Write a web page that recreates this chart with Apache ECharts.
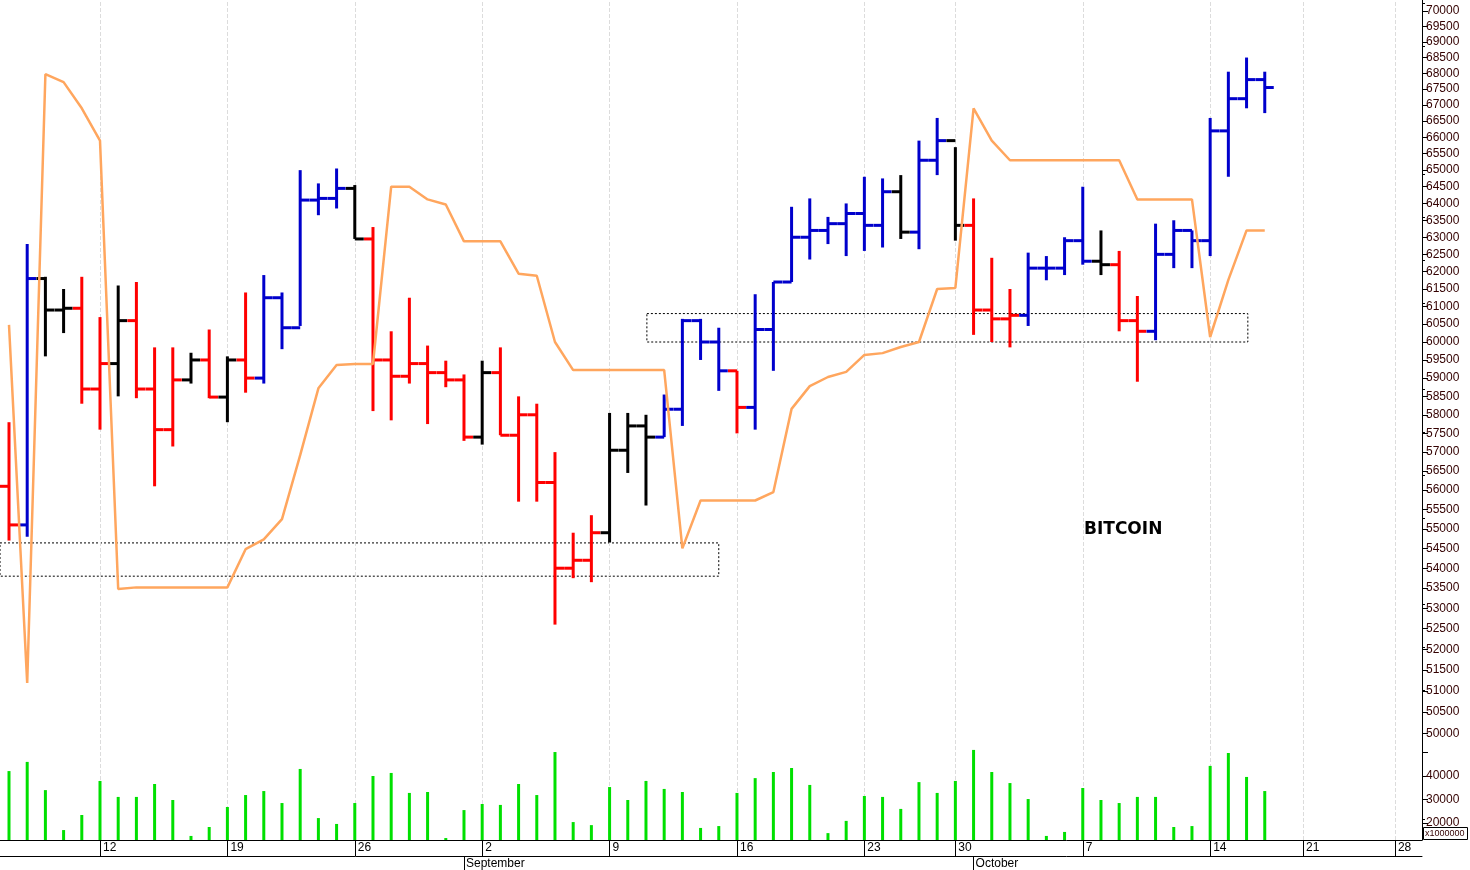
<!DOCTYPE html>
<html>
<head>
<meta charset="utf-8">
<script src="https://cdn.jsdelivr.net/npm/echarts@6/dist/echarts.min.js"></script>
<style>
  html, body { margin: 0; padding: 0; background: #fff; }
  #vis { width: 1470px; height: 870px; }
</style>
</head>
<body>
<div id="vis"></div>
<script>
// daily bars, Aug 7 .. Oct 17 (slot index = bar number)
const highs = [57800, 62800, 61850, 61500, 61850, 60700, 61600, 61700, 59850, 59850,
  59700, 60350, 59600, 61400, 61900, 61400, 65000, 64600, 65050, 64550,
  63300, 60300, 61250, 59900, 59480, 59100, 59480, 59850, 58500, 58300,
  57000, 54900, 55350, 58050, 58050, 58000, 58550, 60650, 60650, 60400,
  59200, 61350, 61700, 63900, 64150, 63600, 64000, 64800, 64750, 64850,
  65900, 66600, 65700, 64150, 62400, 61500, 62550, 62450, 63000, 64500,
  63200, 62600, 61300, 63400, 63500, 63200, 66600, 68050, 68500, 68050];
const lows = [54700, 54800, 59600, 60250, 58300, 57600, 58500, 58450, 56100, 57150,
  58850, 58450, 57800, 58600, 58850, 59800, 60450, 63650, 63850, 62950,
  58100, 57850, 58850, 57750, 58750, 57300, 57200, 57450, 55700, 55700,
  52600, 53750, 53650, 54650, 56450, 55600, 57400, 57700, 59500, 58650,
  57500, 57600, 59200, 61700, 62350, 62800, 62450, 62600, 62700, 62950,
  62650, 64850, 62900, 60200, 60000, 59850, 60450, 61750, 61900, 62200,
  61900, 60300, 58900, 60050, 62100, 62100, 62450, 64800, 66900, 66750];
const closes = [55100, 61800, 60900, 60950, 58700, 59400, 60600, 58700, 57600, 58950,
  59500, 58480, 59500, 59000, 61250, 60400, 64100, 64150, 64450, 62950,
  59500, 59050, 59400, 59150, 58950, 57400, 59150, 57450, 58000, 56200,
  54000, 54200, 54900, 57050, 57700, 57400, 58150, 60600, 60000, 59200,
  58200, 60350, 61700, 63000, 63200, 63400, 63700, 63350, 64350, 63150,
  65300, 65900, 63350, 60900, 60650, 60750, 62100, 62100, 62900, 62300,
  62200, 60600, 60300, 62500, 63200, 62900, 66200, 67200, 67800, 67550];
const firstOpen = 56100;
// r = red, b = blue, k = black
const barColors = "rbkkrrkrrrkrkrbbbbbkrrrrrrkrrrrrrkkkbbbbrbbbbbbbbkbbkrrrbbbbkrrbbbbbbb";

const stopLine = [60480, 51190, 67970, 67720, 66900, 65900, 53480, 53520, 53520, 53520,
  53520, 53520, 53520, 54480, 54730, 55250, 56920, 58720, 59360, 59390,
  59390, 64500, 64500, 64120, 63970, 62880, 62880, 62880, 61940, 61880,
  60000, 59220, 59220, 59220, 59220, 59220, 59220, 54500, 55730, 55730,
  55730, 55730, 55950, 58160, 58780, 59030, 59170, 59640, 59690, 59860,
  60000, 61500, 61530, 66900, 65900, 65300, 65300, 65300, 65300, 65300,
  65300, 65300, 64120, 64120, 64120, 64120, 60140, 61760, 63200, 63200];

const volumes = [42100, 46000, 34000, 17000, 23400, 37900, 31100, 31100, 36600, 29800,
  14500, 18300, 26800, 31900, 33600, 28500, 43000, 22100, 19600, 28500,
  40000, 41300, 32800, 33200, 13600, 25500, 28100, 27700, 36600, 31900,
  50200, 20400, 19100, 35300, 29800, 37900, 34500, 33200, 17900, 18700,
  32800, 39100, 41700, 43400, 36200, 15700, 20900, 31500, 31100, 26000,
  37400, 32800, 37900, 51100, 41700, 37000, 30200, 14500, 16200, 34900,
  29800, 28500, 31100, 31100, 18300, 18700, 44300, 49800, 39600, 33600];

// axis labels
const dayTicks = [5, 12, 19, 26, 33, 40, 47, 52, 59, 66, 71.1, 76.15];
const dayLabels = ["12", "19", "26", "2", "9", "16", "23", "30", "7", "14", "21", "28"];
const monthTicks = [25, 53];
const monthLabels = ["September", "October"];
const priceLabels = [];
for (let p = 50000; p <= 70000; p += 500) priceLabels.push(p);
const volLabels = [20000, 30000, 40000];
const volTicks = [20000, 30000, 40000, 50000];

const colorMap = { r: "#ff0000", b: "#0000cc", k: "#000000" };

// price axis is logarithmic: plot ln(price)
const L = Math.log;
const yMin = L(60000) - 498 / 2147;
const yMax = L(60000) + 342 / 2147;
const xMin = -0.4945, xMax = 77.64;

const ohlc = closes.map((c, i) => [i, L(i === 0 ? firstOpen : closes[i - 1]), L(c), L(lows[i]), L(highs[i]), barColors[i]]);
const stopData = stopLine.map((v, i) => [i, L(v)]);
const volData = volumes.map((v, i) => [i, v]);

const chart = echarts.init(document.getElementById("vis"));
const font = "Liberation Sans, Arial, sans-serif";

function renderBar(params, api) {
  const x = api.value(0);
  const o = api.coord([x, api.value(1)]);
  const c = api.coord([x, api.value(2)]);
  const lo = api.coord([x, api.value(3)]);
  const hi = api.coord([x, api.value(4)]);
  const col = colorMap[ohlc[params.dataIndex][5]];
  const st = { stroke: col, lineWidth: 3 };
  return {
    type: "group",
    children: [
      { type: "line", shape: { x1: hi[0], y1: hi[1], x2: lo[0], y2: lo[1] }, style: st },
      { type: "line", shape: { x1: o[0] - 9, y1: o[1], x2: o[0], y2: o[1] }, style: st },
      { type: "line", shape: { x1: c[0], y1: c[1], x2: c[0] + 9, y2: c[1] }, style: st }
    ]
  };
}

chart.setOption({
  animation: false,
  backgroundColor: "#fff",
  grid: [
    { left: 0, right: 48, top: 0, bottom: 30 },
    { left: 0, right: 48, top: 700, bottom: 30 }
  ],
  xAxis: [
    {
      type: "value", gridIndex: 0, min: xMin, max: xMax,
      axisLine: { onZero: false, lineStyle: { color: "#000", width: 1 } },
      axisTick: { customValues: dayTicks, length: 16, lineStyle: { color: "#000" } },
      axisLabel: {
        customValues: dayTicks, align: "left", margin: 2, padding: [0, 0, 0, 3],
        color: "#000", fontSize: 12, fontFamily: font,
        formatter: v => dayLabels[dayTicks.indexOf(v)] || ""
      },
      splitLine: { show: false }
    },
    {
      type: "value", gridIndex: 0, min: xMin, max: xMax, position: "bottom", offset: 16,
      axisLine: { show: true, onZero: false, lineStyle: { color: "#000", width: 1 } },
      axisTick: { customValues: monthTicks, length: 14, lineStyle: { color: "#000" } },
      axisLabel: {
        customValues: monthTicks, align: "left", margin: 2, padding: [0, 0, 0, 2],
        color: "#000", fontSize: 12, fontFamily: font,
        formatter: v => monthLabels[monthTicks.indexOf(v)] || ""
      },
      splitLine: { show: false }
    },
    { type: "value", gridIndex: 1, min: xMin, max: xMax, show: false }
  ],
  yAxis: [
    {
      type: "value", gridIndex: 0, min: yMin, max: yMax, position: "right",
      axisLine: { show: true, onZero: false, lineStyle: { color: "#000" } },
      axisTick: { show: true, inside: false, length: 6, customValues: priceLabels.map(L), lineStyle: { color: "#000" } },
      minorTick: { show: true, splitNumber: 5, length: 3, lineStyle: { color: "#000" } },
      axisLabel: {
        customValues: priceLabels.map(L), margin: 4, color: "#330000", fontSize: 12, fontFamily: font,
        formatter: v => String(Math.round(Math.exp(v) / 500) * 500)
      },
      splitLine: { show: false }
    },
    {
      type: "value", gridIndex: 1, min: 12770, max: 72340, position: "right",
      axisLine: { show: false, onZero: false },
      axisTick: { show: true, length: 6, customValues: volTicks, lineStyle: { color: "#000" } },
      axisLabel: { customValues: volLabels, margin: 4, color: "#330000", fontSize: 12, fontFamily: font, formatter: v => String(v) },
      splitLine: { show: false }
    }
  ],
  series: [
    {
      // carrier for the week grid lines and the two zones, drawn under everything
      type: "line", xAxisIndex: 0, yAxisIndex: 0, data: [], z: 0, silent: true,
      markLine: {
        silent: true, symbol: "none", label: { show: false }, z: 0,
        lineStyle: { color: "#dcdcdc", type: "dashed", width: 1 },
        data: dayTicks.map(v => ({ xAxis: v }))
      },
      markArea: {
        silent: true, z: 0,
        itemStyle: { color: "rgba(0,0,0,0)", borderColor: "#000", borderWidth: 1, borderType: [2, 2] },
        data: [
          [{ coord: [xMin, L(54640)] }, { coord: [39, L(53800)] }],
          [{ coord: [35.05, L(60800)] }, { coord: [68.07, L(60000)] }]
        ]
      }
    },
    {
      type: "custom", xAxisIndex: 0, yAxisIndex: 0, data: ohlc,
      encode: { x: 0, y: [1, 2, 3, 4] }, renderItem: renderBar, z: 2
    },
    {
      type: "line", xAxisIndex: 0, yAxisIndex: 0, data: stopData, symbol: "none",
      lineStyle: { color: "#ffa65e", width: 2.5 }, z: 3
    },
    {
      type: "bar", xAxisIndex: 2, yAxisIndex: 1, data: volData, barWidth: 3,
      itemStyle: { color: "#00e000" }, z: 1
    }
  ],
  graphic: [
    {
      type: "text", left: 1084, top: 521,
      style: { text: "BITCOIN", font: "bold 17px DejaVu Sans, Verdana, sans-serif", fill: "#000" }
    },
    {
      type: "rect", left: 1423, top: 827, shape: { width: 44, height: 12 },
      style: { fill: "#fff", stroke: "#000", lineWidth: 1 }
    },
    {
      type: "text", left: 1425, top: 829,
      style: { text: "x1000000", font: "9px Liberation Sans, Arial, sans-serif", fill: "#330000" }
    }
  ]
});
</script>
</body>
</html>
